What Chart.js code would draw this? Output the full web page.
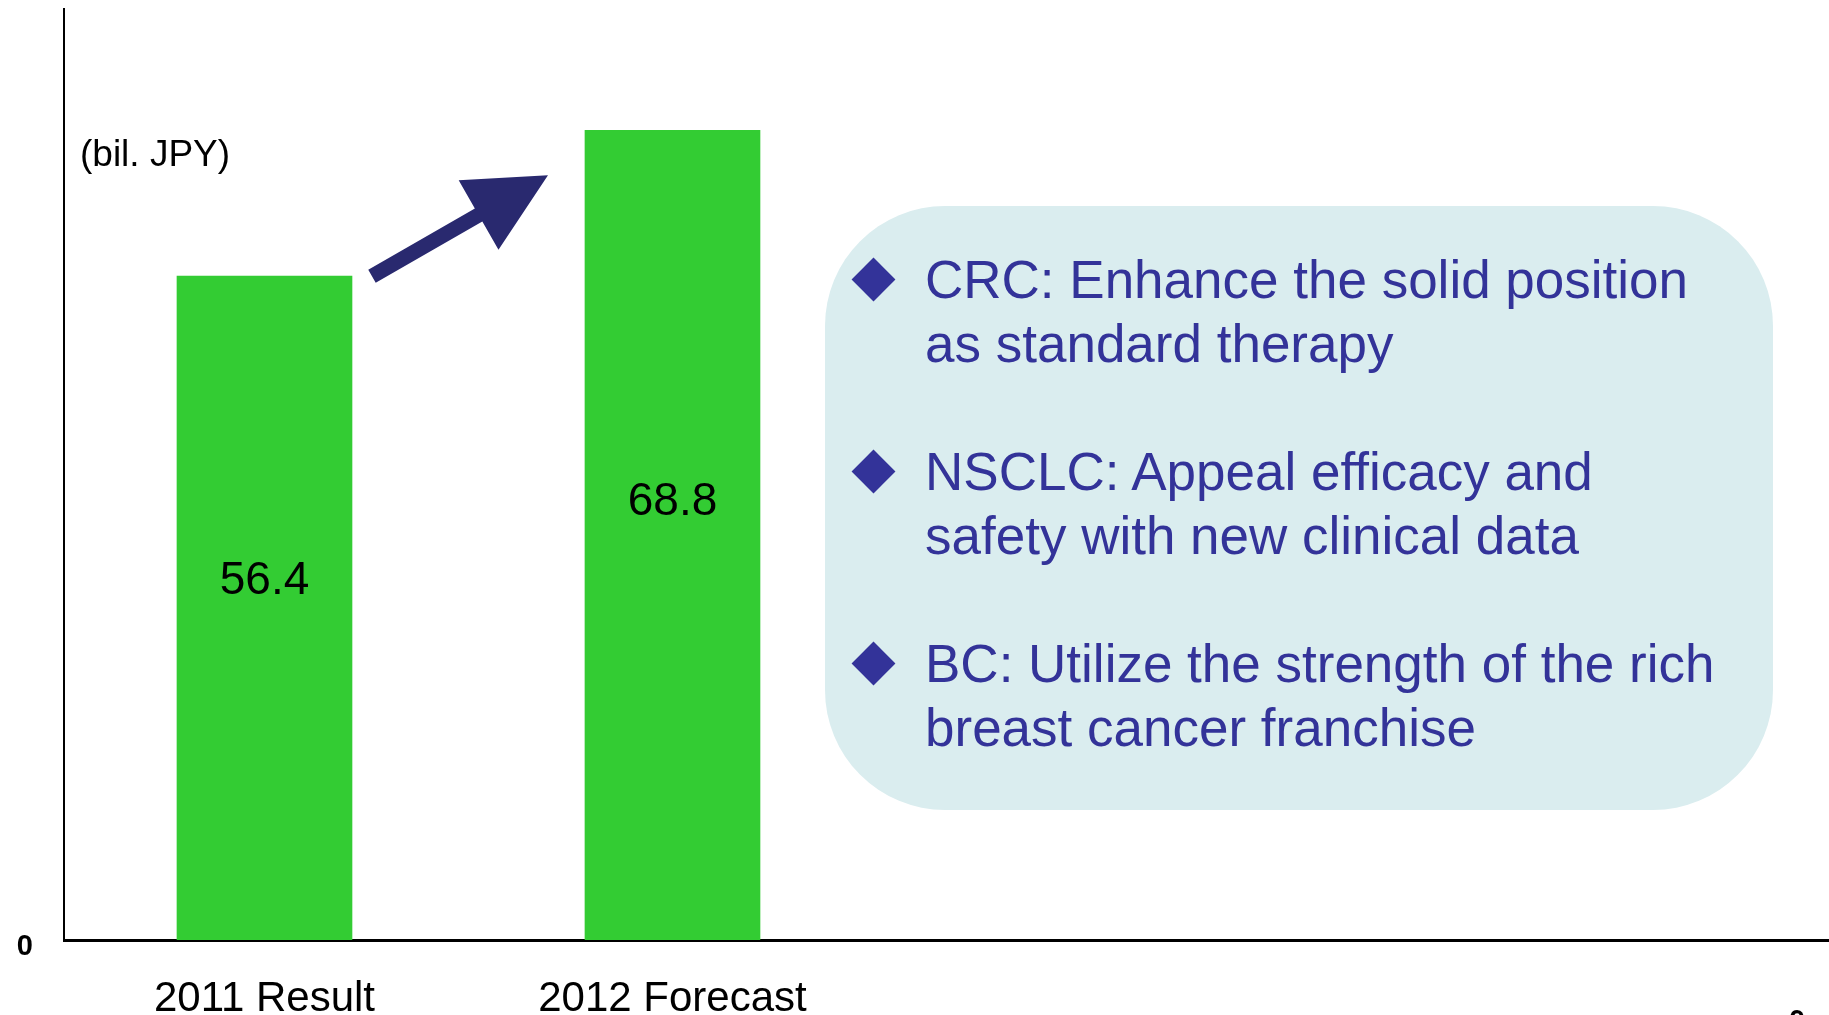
<!DOCTYPE html>
<html>
<head>
<meta charset="utf-8">
<script src="https://cdn.jsdelivr.net/npm/chart.js@4"></script>
<style>
    body { margin: 0; background: #ffffff; font-family: "Liberation Sans", Arial, sans-serif; }
    #wrap { position: relative; width: 1829px; height: 1015px; overflow: hidden; }
    #unidade { position: absolute; left: 80px; top: 133px; font-size: 37px; color: #000; }
    #caixa {
        position: absolute; left: 825px; top: 206px; width: 948px; height: 604px;
        background: #daedef; border-radius: 120px; box-sizing: border-box;
        padding: 42px 0 0 100px; color: #333399; font-size: 53px; line-height: 64px;
    }
    #caixa p { position: relative; margin: 0 0 64px 0; }
    #caixa p::before {
        content: ''; position: absolute; left: -67px; top: 16px; width: 31px; height: 31px;
        background: #333399; transform: rotate(45deg);
    }
</style>
</head>
<body>
<div id="wrap">
    <canvas id="grafico" width="1829" height="1015"></canvas>
    <div id="unidade">(bil. JPY)</div>
    <div id="caixa"></div>
</div>
<script>
// Dados do gráfico
const categorias = ['2011 Result', '2012 Forecast'];
const vendas = [56.4, 68.8];
const ticksY = [0];
const topicos = [
    'CRC: Enhance the solid position<br>as standard therapy',
    'NSCLC: Appeal efficacy and<br>safety with new clinical data',
    'BC: Utilize the strength of the rich<br>breast cancer franchise'
];

const caixa = document.getElementById('caixa');
topicos.forEach(t => {
    const p = document.createElement('p');
    p.innerHTML = t;
    caixa.appendChild(p);
});

const fonte = '"Liberation Sans", Arial, sans-serif';

// Rótulos dentro das barras e seta entre elas
const extras = {
    id: 'extras',
    afterDatasetsDraw(chart) {
        const ctx = chart.ctx;
        const barras = chart.getDatasetMeta(0).data;
        const base = chart.scales.y.getPixelForValue(0);
        ctx.save();
        ctx.fillStyle = '#000';
        ctx.font = '46px ' + fonte;
        ctx.textAlign = 'center';
        ctx.textBaseline = 'middle';
        barras.forEach((b, i) => {
            const y = b.y + (base - b.y) * 0.46;
            ctx.fillText(vendas[i].toFixed(1), b.x, y);
        });

        // seta
        const b1 = barras[0], b2 = barras[1];
        const x0 = b1.x + b1.width / 2 + 20, y0 = b1.y;
        const x1 = b2.x - b2.width / 2 - 37, y1 = b2.y + 45;
        const ang = Math.atan2(y1 - y0, x1 - x0);
        const comp = Math.hypot(x1 - x0, y1 - y0);
        ctx.translate(x0, y0);
        ctx.rotate(ang);
        ctx.fillStyle = '#29296f';
        ctx.beginPath();
        ctx.moveTo(0, -7.5);
        ctx.lineTo(comp - 80, -7.5);
        ctx.lineTo(comp - 80, -40);
        ctx.lineTo(comp, 0);
        ctx.lineTo(comp - 80, 40);
        ctx.lineTo(comp - 80, 7.5);
        ctx.lineTo(0, 7.5);
        ctx.closePath();
        ctx.fill();
        ctx.restore();

        // zero cortado no canto
        ctx.save();
        ctx.fillStyle = '#000';
        ctx.font = 'bold 29px ' + fonte;
        ctx.textAlign = 'center';
        ctx.fillText('0', 1797, 1030);
        ctx.restore();
    }
};

new Chart(document.getElementById('grafico').getContext('2d'), {
    type: 'bar',
    data: {
        datasets: [{
            data: vendas.map((v, i) => ({ x: i, y: v })),
            backgroundColor: '#33cc33',
            barThickness: 175
        }]
    },
    options: {
        responsive: false,
        animation: false,
        layout: { padding: { top: 9, left: 0, right: 0, bottom: 0 } },
        plugins: { legend: { display: false }, tooltip: { enabled: false } },
        scales: {
            x: {
                type: 'linear',
                offset: false,
                min: -0.4914,
                max: 3.8346,
                grid: { display: false, drawTicks: false },
                border: { display: true, color: '#000', width: 3 },
                afterBuildTicks: s => { s.ticks = categorias.map((c, i) => ({ value: i })); },
                afterFit: s => { s.height = 75; s.paddingLeft = 0; s.paddingRight = 0; },
                ticks: {
                    padding: 34,
                    maxRotation: 0,
                    autoSkip: false,
                    color: '#000',
                    font: { size: 42, family: fonte },
                    callback: v => categorias[v]
                }
            },
            y: {
                min: 0,
                max: 79.1,
                grid: { display: false, drawTicks: false },
                border: { display: true, color: '#000', width: 2 },
                afterBuildTicks: s => { s.ticks = ticksY.map(v => ({ value: v })); },
                afterFit: s => { s.width = 64; s.paddingTop = 0; s.paddingBottom = 0; },
                ticks: {
                    padding: 31,
                    labelOffset: 7,
                    color: '#000',
                    font: { size: 29, weight: 'bold', family: fonte }
                }
            }
        }
    },
    plugins: [extras]
});
</script>
</body>
</html>
